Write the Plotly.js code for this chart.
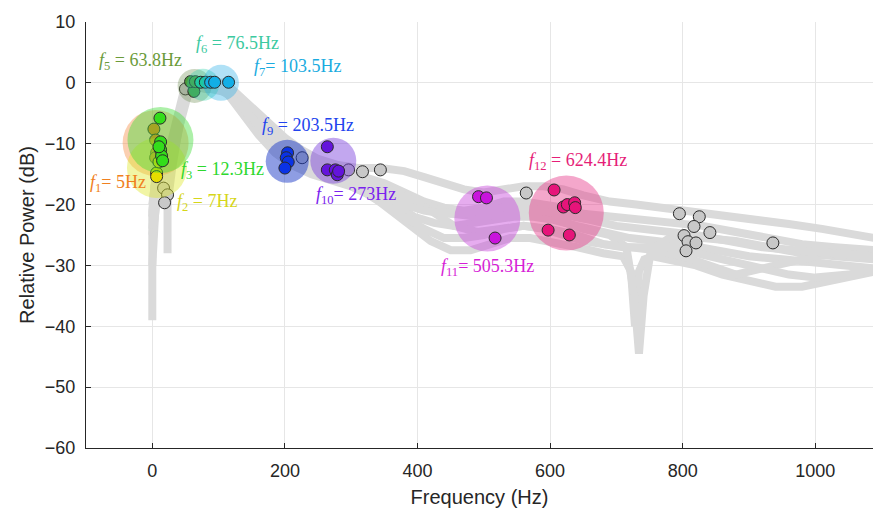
<!DOCTYPE html>
<html><head><meta charset="utf-8">
<script src="https://cdn.plot.ly/plotly-3.0.1.min.js"></script>
<style>html,body{margin:0;padding:0;background:#fff;overflow:hidden}#chart{width:873px;height:516px}</style>
</head><body><div id="chart"></div>
<script>
// ================= DATA =================
// identified peaks
const peakIndex = [1, 2, 3, 5, 6, 7, 9, 10, 11, 12];
const peakFreq  = [5, 7, 12.3, 63.8, 76.5, 103.5, 203.5, 273, 505.3, 624.4];
const peakPower = [-9.9, -14.0, -9.4, -0.5, -0.3, 0.0, -12.9, -12.8, -22.3, -21.4];
const peakLabel = ['<i>f</i><sub>1</sub>= 5Hz', '<i>f</i><sub>2</sub> = 7Hz', '<i>f</i><sub>3</sub> = 12.3Hz',
  '<i>f</i><sub>5</sub> = 63.8Hz', '<i>f</i><sub>6</sub> = 76.5Hz', '<i>f</i><sub>7</sub>= 103.5Hz',
  '<i>f</i><sub>9</sub> = 203.5Hz', '<i>f</i><sub>10</sub>= 273Hz', '<i>f</i><sub>11</sub>= 505.3Hz',
  '<i>f</i><sub>12</sub> = 624.4Hz'];

// detected spectral peaks, per cluster (freq Hz, power dB)
const ptFreq = [
  [2.4, 5, 6.5, 5],
  [6.5, 6.5, 10],
  [11.5, 12.5, 12.5, 14, 15.5, 10],
  [62.7, 57.7, 65],
  [73, 80],
  [88, 94, 115],
  [204, 202, 205, 200],
  [264, 264, 276, 279, 281],
  [492, 504, 517],
  [606, 620, 626, 637, 638, 597, 629]
];
const ptPower = [
  [-7.6, -9.4, -11.5, -12.3],
  [-14.8, -15.4, -13.0],
  [-5.8, -9.7, -11.0, -12.0, -12.8, -10.5],
  [-1.4, 0.2, 0.2],
  [0.1, 0.1],
  [0.1, 0.1, 0.1],
  [-11.5, -12.3, -13.0, -14.0],
  [-10.5, -14.3, -14.3, -15.1, -14.5],
  [-18.7, -18.9, -25.5],
  [-17.6, -20.4, -20.0, -19.7, -20.5, -24.2, -25.0]
];
// unassigned peaks
const grayFreq  = [17, 23, 18.5, 50, 226, 296, 317, 344, 564, 795, 825, 817, 841, 802, 808, 820, 805, 936];
const grayPower = [-17.3, -18.4, -19.7, -1.0, -12.3, -14.3, -14.6, -14.3, -18.1, -21.5, -22.0, -23.6, -24.6, -25.1, -26.1, -26.3, -27.6, -26.3];

// background spectra (freq Hz, power dB)
const spec1F = [0, 0, 4, 12, 22, 30, 38, 46, 54, 62, 75, 90, 105, 115, 130, 150, 175, 200, 225, 250, 280, 310, 345, 380, 410, 440, 470, 500, 530, 560, 590, 620, 650, 690, 730, 770, 810, 860, 910, 960, 1010, 1060, 1090];
const spec1P = [-39, -21, -16, -14, -12.5, -9, -5, -2, -0.5, 0, 0, 0, 0, -0.5, -2, -4, -6.5, -9, -11, -12.5, -13.5, -14, -14, -14.5, -15.5, -16.5, -17.5, -18, -17.5, -17, -17, -17.5, -18.5, -19.5, -20, -20.5, -21, -21.8, -22.5, -23.2, -24, -25, -25.5];
const spec2F = [0, 6, 15, 25, 34, 42, 50, 58, 70, 90, 110, 125, 145, 170, 200, 230, 260, 290, 320, 350, 380, 410, 440, 470, 500, 530, 560, 590, 620, 650, 690, 730, 780, 830, 880, 930, 980, 1030, 1090];
const spec2P = [-30, -18, -15, -12, -8, -4, -1.5, -0.5, 0, 0, -0.5, -2, -4.5, -7.5, -10, -12, -13.5, -14.5, -15.5, -16.5, -18, -19.5, -20.5, -21, -20.5, -19.5, -19.5, -20, -20.5, -21.5, -22, -22.5, -23, -23.5, -24.5, -25.5, -26.5, -27, -27.5];
const spec3F = [0, 10, 20, 28, 36, 44, 52, 60, 80, 100, 120, 140, 165, 190, 215, 245, 275, 305, 335, 365, 395, 425, 455, 485, 515, 545, 575, 605, 640, 680, 720, 760, 800, 850, 900, 950, 1000, 1050, 1090];
const spec3P = [-25, -17, -15, -12, -8, -4, -1.5, -0.5, -0.5, -0.5, -2.5, -5.5, -8.5, -11, -13, -14.5, -15.5, -16.5, -18, -20, -22, -23, -23.5, -23, -22.5, -22, -22, -22.5, -23.5, -24.5, -25.5, -26, -26.5, -27.5, -28.5, -29, -29.5, -30, -30.5];
const spec4F = [23, 23, 30, 38, 46, 54, 62, 80, 100, 115, 135, 160, 185, 210, 240, 270, 300, 330, 360, 390, 420, 450, 480, 510, 540, 570, 600, 640, 680, 710, 722, 728, 734, 742, 755, 780, 820, 860, 900, 940, 980, 1020, 1060, 1090];
const spec4P = [-28, -20, -14, -8, -3.5, -1, -0.5, -1, -1, -2, -5, -8.5, -11.5, -13.5, -15, -16, -17, -18.5, -21, -23.5, -26, -27.5, -27.5, -26.5, -25.5, -25.5, -26, -27, -28, -28.5, -31, -40, -31, -29, -28.5, -29, -30, -31.5, -32.5, -33.5, -33.5, -32.5, -31.5, -31];
const spec5F = [0, 3, 10, 20, 30, 40, 50, 58, 70, 95, 112, 130, 155, 180, 205, 235, 265, 295, 330, 370, 410, 450, 490, 530, 570, 610, 650, 690, 715, 727, 734, 741, 752, 780, 830, 880, 930, 980, 1030, 1090];
const spec5P = [-22, -17, -14, -13, -10, -5, -2, -0.5, 0, 0, -0.5, -2.5, -5.5, -8.5, -11, -13, -14.5, -15.5, -16.5, -18, -20, -21.5, -22, -21.5, -21.5, -22.5, -24, -25, -27, -35, -44.5, -35, -27.5, -25.5, -25.5, -26, -27, -28, -28.5, -29];
const spec6F = [0, 5, 15, 25, 35, 45, 55, 65, 85, 105, 120, 145, 170, 195, 225, 255, 285, 315, 350, 385, 420, 455, 490, 525, 560, 600, 640, 680, 720, 760, 800, 840, 880, 920, 960, 1000, 1040, 1090];
const spec6P = [-20, -16, -14, -13, -9.5, -5, -1.5, -0.5, 0, 0, -1.5, -4, -7, -9.5, -12, -14, -15, -16, -17, -19, -21, -23.5, -24.5, -24, -23.5, -24, -25, -26.5, -27, -27.5, -28.5, -30, -31.5, -30.5, -29.5, -28.5, -28, -28];
const spec7F = [0, 8, 18, 27, 36, 45, 54, 64, 85, 108, 125, 150, 175, 200, 230, 260, 290, 320, 350, 380, 410, 440, 470, 500, 530, 560, 590, 620, 660, 700, 740, 780, 820, 870, 920, 970, 1020, 1090];
const spec7P = [-24, -16, -14, -11.5, -7, -3, -1, -0.5, -0.5, -1, -3, -6, -9, -11.5, -13.5, -15, -16, -17, -18.5, -20, -21, -21.5, -21.5, -21, -20.5, -20.5, -21, -21.5, -22.5, -23.5, -24, -24.5, -25, -26, -27, -27.5, -28, -28.5];
const spec8F = [30, 40, 50, 60, 80, 110, 140, 170, 200, 230, 260, 290, 320, 350, 380, 410, 440, 470, 500, 530, 560, 590, 620, 650, 680, 710, 740, 770, 800, 840, 880, 920, 960, 1000, 1050, 1090];
const spec8P = [-13, -7, -2.5, -0.8, -0.8, -1.5, -4.5, -8, -11, -13.5, -15, -16.5, -18, -20, -22, -24, -25.5, -25.5, -25, -24, -23.5, -24, -25, -26, -26.5, -27, -27, -27, -27.5, -28.5, -29.5, -30.5, -31.5, -32, -31.5, -30.5];

const xTicks = [0, 200, 400, 600, 800, 1000];
const yTicks = [-60, -50, -40, -30, -20, -10, 0, 10];

// ================= STYLE =================
const dotColor = ['#f07d1a', '#e6dc00', '#33dd1a', '#4c9a3c', '#1ec8a0', '#12aee6', '#0a32e6', '#6414dc', '#c814dc', '#e6147a'];
const circleColor = ['rgba(245,140,70,0.42)', 'rgba(222,230,40,0.42)', 'rgba(60,220,50,0.42)', 'rgba(110,140,80,0.35)',
  'rgba(40,210,170,0.35)', 'rgba(30,170,230,0.35)', 'rgba(30,60,200,0.5)', 'rgba(120,60,220,0.45)',
  'rgba(200,70,220,0.45)', 'rgba(230,60,140,0.45)'];
const labelColor = ['#f08020', '#d6d61a', '#2ed82e', '#6b9b3a', '#3cc9a0', '#1aabe0', '#2244ee', '#7a22ee', '#d61ed6', '#e61e78'];
const circleDiam = [66, 60, 66, 34, 32, 36, 43, 46, 66, 75];
const labelShift = [[-38, -40], [50, -34], [62, -30], [-54, 24], [34, 40], [77, 15], [21, 35], [23, -35], [0, -49], [12, 52]];

// ================= TRACES =================
const traces = [];
const specs = [[spec1F, spec1P], [spec2F, spec2P], [spec3F, spec3P], [spec4F, spec4P], [spec5F, spec5P],
  [spec6F, spec6P], [spec7F, spec7P], [spec8F, spec8P]];
specs.forEach(s => traces.push({
  type: 'scatter', mode: 'lines', x: s[0], y: s[1],
  line: {color: '#dadada', width: 8}, hoverinfo: 'skip', showlegend: false
}));
traces.push({
  type: 'scatter', mode: 'markers', x: grayFreq, y: grayPower, showlegend: false,
  marker: {size: 12, color: '#c8c8c8', line: {color: '#2a2a2a', width: 1}}
});
peakFreq.forEach((f, i) => {
  traces.push({
    type: 'scatter', mode: 'markers', x: [f], y: [peakPower[i]], showlegend: false, hoverinfo: 'skip',
    marker: {size: circleDiam[i], color: circleColor[i], line: {width: 0}}
  });
  traces.push({
    type: 'scatter', mode: 'markers', x: ptFreq[i], y: ptPower[i], showlegend: false,
    marker: {size: 12, color: dotColor[i], line: {color: '#2a2a2a', width: 1}}
  });
});

const annotations = peakFreq.map((f, i) => ({
  x: f, y: peakPower[i], xref: 'x', yref: 'y', text: peakLabel[i], showarrow: false,
  xshift: labelShift[i][0], yshift: labelShift[i][1], xanchor: 'center', yanchor: 'middle',
  font: {family: 'Liberation Serif, Times New Roman, serif', size: 18, color: labelColor[i]}
}));

const axisCommon = {
  ticks: 'inside', ticklen: 5, tickwidth: 1, tickcolor: '#262626',
  showline: true, linecolor: '#262626', linewidth: 1, mirror: false,
  showgrid: true, gridcolor: '#e6e6e6', gridwidth: 1, zeroline: false,
  tickfont: {family: 'Arial, Liberation Sans, sans-serif', size: 18, color: '#262626'},
  automargin: false
};

const layout = {
  width: 873, height: 516,
  margin: {l: 86, r: 0, t: 22, b: 68},
  paper_bgcolor: '#ffffff', plot_bgcolor: '#ffffff',
  showlegend: false,
  xaxis: Object.assign({}, axisCommon, {
    range: [-100, 1087], tickvals: xTicks, ticklabelstandoff: 6,
    title: {text: 'Frequency (Hz)', standoff: 10, font: {family: 'Arial, Liberation Sans, sans-serif', size: 20, color: '#262626'}}
  }),
  yaxis: Object.assign({}, axisCommon, {
    range: [-60, 10], tickvals: yTicks, ticklabelstandoff: 6,
    title: {text: 'Relative Power (dB)', standoff: 4, font: {family: 'Arial, Liberation Sans, sans-serif', size: 20, color: '#262626'}}
  }),
  annotations: annotations
};

Plotly.newPlot('chart', traces, layout, {displayModeBar: false, staticPlot: true});
</script>
</body></html>
